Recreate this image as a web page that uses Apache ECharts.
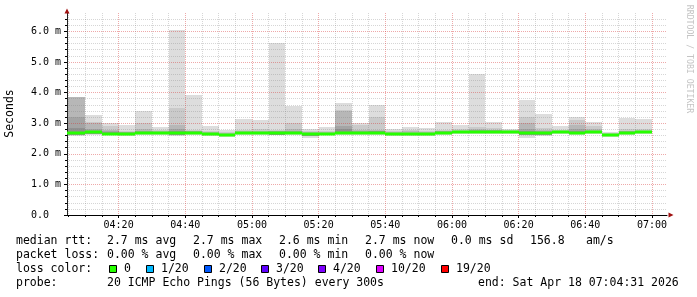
<!DOCTYPE html>
<html><head><meta charset="utf-8">
<script src="https://cdn.jsdelivr.net/npm/echarts@6/dist/echarts.min.js"></script>
<style>html,body{margin:0;padding:0;background:#fff}#c{width:697px;height:297px}</style>
</head><body><div id="c"></div>
<script>
// ---- data ----
const chartStart = "04:04:31";
const chartEnd = "07:04:31";
const stepEnds = ["04:10","04:15","04:20","04:25","04:30","04:35","04:40","04:45","04:50","04:55",
  "05:00","05:05","05:10","05:15","05:20","05:25","05:30","05:35","05:40","05:45",
  "05:50","05:55","06:00","06:05","06:10","06:15","06:20","06:25","06:30","06:35",
  "06:40","06:45","06:50","06:55","07:00"];
// smoke levels (ms): ping ranks max, 19th, 18th, 17th, 16th, 2nd, min
const smokeMax = [3.87,3.26,3.01,2.93,3.40,2.88,6.03,3.91,2.90,2.77,3.14,3.10,5.62,3.55,2.80,2.86,3.66,3.01,3.61,2.80,2.86,2.83,3.03,2.93,4.60,3.04,2.82,3.77,3.29,2.90,3.21,3.04,2.72,3.18,3.14];
const smokeP19 = [3.86,3.04,2.92,2.75,2.99,2.78,3.51,2.79,2.76,2.70,2.77,2.80,2.77,3.01,2.74,2.75,3.42,2.93,3.21,2.75,2.77,2.74,2.78,2.80,2.86,2.84,2.77,3.21,2.84,2.78,3.10,2.90,2.68,2.80,2.80];
const smokeP18 = [3.85,3.02,2.78,2.72,2.80,2.74,2.93,2.76,2.72,2.67,2.74,2.74,2.75,2.80,2.71,2.71,3.40,2.78,2.79,2.72,2.73,2.71,2.75,2.76,2.80,2.79,2.75,2.99,2.78,2.75,2.93,2.80,2.66,2.75,2.76];
const smokeP17 = [3.19,2.80,2.74,2.70,2.76,2.72,2.82,2.74,2.69,2.65,2.72,2.72,2.73,2.74,2.69,2.69,2.90,2.74,2.76,2.69,2.69,2.68,2.73,2.74,2.78,2.77,2.74,2.80,2.75,2.74,2.80,2.76,2.65,2.73,2.75];
const smokeP16 = [2.84,2.76,2.71,2.68,2.72,2.70,2.75,2.72,2.67,2.63,2.70,2.70,2.71,2.71,2.67,2.67,2.80,2.71,2.73,2.67,2.67,2.66,2.71,2.72,2.76,2.75,2.72,2.74,2.72,2.72,2.74,2.73,2.64,2.71,2.73];
const smokeP2  = [2.62,2.64,2.62,2.61,2.64,2.64,2.62,2.64,2.60,2.58,2.64,2.64,2.63,2.64,2.59,2.62,2.64,2.64,2.64,2.61,2.61,2.60,2.65,2.67,2.68,2.69,2.67,2.60,2.63,2.67,2.65,2.67,2.58,2.65,2.68];
const smokeMin = [2.58,2.62,2.60,2.57,2.62,2.62,2.57,2.62,2.58,2.56,2.62,2.61,2.60,2.61,2.53,2.60,2.62,2.62,2.62,2.58,2.59,2.57,2.62,2.64,2.65,2.66,2.65,2.53,2.58,2.64,2.62,2.64,2.55,2.63,2.65];
const medianRtt = [2.68,2.70,2.66,2.65,2.68,2.67,2.68,2.67,2.64,2.61,2.67,2.67,2.67,2.67,2.65,2.65,2.68,2.68,2.68,2.65,2.65,2.65,2.68,2.70,2.72,2.72,2.70,2.68,2.68,2.70,2.68,2.70,2.62,2.68,2.71];
const xTickLabels = ["04:20","04:40","05:00","05:20","05:40","06:00","06:20","06:40","07:00"];
const yTickValues = [0,1,2,3,4,5,6];
const yTickLabels = ["0.0  ","1.0 m","2.0 m","3.0 m","4.0 m","5.0 m","6.0 m"];
const yMax = 6.6;
const lossLabels = ["0","1/20","2/20","3/20","4/20","10/20","19/20"];
const lossColors = ["#26ff00","#00b8ff","#0059ff","#5e00ff","#7e00ff","#dd00ff","#ff0000"];
const medianStats = ["2.7 ms avg","2.7 ms max","2.6 ms min","2.7 ms now","0.0 ms sd","156.8","am/s"];
const lossStats = ["0.00 % avg","0.00 % max","0.00 % min","0.00 % now"];
const probeText = "20 ICMP Echo Pings (56 Bytes) every 300s";
const endText = "end: Sat Apr 18 07:04:31 2026";

// ---- helpers ----
function toMin(s){const p=s.split(':').map(Number);return p[0]*60+p[1]+(p[2]||0)/60;}
const xMin = toMin(chartStart), xMax = toMin(chartEnd);
const xMajor = xTickLabels.map(toMin);
const xMinor = [];
for (let t = Math.ceil(xMin/5)*5; t <= xMax; t += 5) if (t % 20 !== 0) xMinor.push(t);
const yMinor = [];
for (let k = 1; k <= 32; k++) { const v = +(k*0.2).toFixed(1); if (Math.abs(v-Math.round(v))>1e-6) yMinor.push(v); }
function fmtTime(v){const h=Math.floor(v/60),m=Math.round(v-h*60);return String(h).padStart(2,'0')+':'+String(m).padStart(2,'0');}

const smokeData = stepEnds.map((e,i)=>[i===0?xMin:toMin(stepEnds[i-1]), toMin(e),
  smokeMin[i], smokeMax[i], smokeP2[i], smokeP19[i], smokeP18[i], smokeP17[i], smokeP16[i]]);
const medData = stepEnds.map((e,i)=>[i===0?xMin:toMin(stepEnds[i-1]), toMin(e), medianRtt[i]]);
const shades = ['#dddddd','#cacaca','#b7b7b7','#a4a4a4','#919191'];

function renderSmoke(params, api){
  const x0 = Math.round(api.coord([api.value(0),0])[0]);
  const x1 = Math.round(api.coord([api.value(1),0])[0]);
  const los = [api.value(2), api.value(4), api.value(4), api.value(4), api.value(4)];
  const his = [api.value(3), api.value(5), api.value(6), api.value(7), api.value(8)];
  const children = his.map((h,k)=>{
    const yt = Math.round(api.coord([0,h])[1]);
    const yb = Math.round(api.coord([0,los[k]])[1]);
    return {type:'rect', shape:{x:x0,y:yt,width:x1-x0,height:Math.max(0,yb-yt)}, style:{fill:shades[k]}};
  });
  return {type:'group', children};
}
function renderMedian(params, api){
  const x0 = Math.round(api.coord([api.value(0),0])[0]);
  const x1 = Math.round(api.coord([api.value(1),0])[0]);
  const y = Math.round(api.coord([0,api.value(2)])[1]);
  return {type:'rect', shape:{x:x0,y:y-1.5,width:x1-x0,height:3}, style:{fill:lossColors[0]}};
}

const mono = '"DejaVu Sans Mono", monospace';
const gridMinor = 'rgba(128,128,128,0.32)';
const gridMajor = 'rgba(215,50,50,0.42)';
const arrowColor = '#a01010';

const graphics = [];
function txt(s, x, y){ graphics.push({type:'text', x:x, y:y, silent:true, style:{text:s, font:'11.5px '+mono, fill:'#000', textVerticalAlign:'middle'}}); }
txt('median rtt:', 16, 241);
const medX = [107,193,279,365,451,530,586];
medianStats.forEach((s,i)=>txt(s, medX[i], 241));
txt('packet loss:', 16, 255);
lossStats.forEach((s,i)=>txt(s, medX[i], 255));
txt('loss color:', 16, 269);
const lossTextX = [124,161,219,276,333,391,456];
lossLabels.forEach((s,i)=>{
  graphics.push({type:'rect', shape:{x:lossTextX[i]-14.5, y:265.5, width:7, height:7}, style:{fill:lossColors[i], stroke:'#000', lineWidth:1}});
  txt(s, lossTextX[i], 269);
});
txt('probe:', 16, 283.5);
txt(probeText, 107, 283.5);
txt(endText, 478, 283.5);
graphics.push({type:'text', x:10.5, y:113.5, rotation:Math.PI/2, silent:true,
  style:{text:'Seconds', font:'11.5px '+mono, fill:'#000', textAlign:'center', textVerticalAlign:'middle'}});
graphics.push({type:'text', x:689, y:59, rotation:-Math.PI/2, silent:true,
  style:{text:'RRDTOOL / TOBI OETIKER', font:'8.2px '+mono, fill:'#c4c4c4', textAlign:'center', textVerticalAlign:'middle'}});

const chart = echarts.init(document.getElementById('c'), null, {renderer:'canvas'});
chart.setOption({
  animation:false,
  backgroundColor:'#ffffff',
  grid:{left:67, right:30, top:13, bottom:82},
  xAxis:[
    {type:'value', min:xMin, max:xMax, position:'bottom', z:3,
     axisLine:{show:true, onZero:false, lineStyle:{color:'#000', width:1}},
     axisTick:{show:true, length:2, customValues:xMinor, lineStyle:{color:'#000'}},
     axisLabel:{show:true, customValues:xMajor, formatter:(v)=>fmtTime(v), margin:5, fontFamily:mono, fontSize:10, color:'#000'},
     splitLine:{show:true, lineStyle:{color:gridMinor, width:1, type:[1,1]}}},
    {type:'value', min:xMin, max:xMax, position:'bottom', z:3,
     axisLine:{show:true, onZero:false, symbol:['none','triangle'], symbolSize:[5,5], symbolOffset:[0,4], lineStyle:{color:arrowColor, opacity:0}},
     axisTick:{show:true, length:3, customValues:xMajor, lineStyle:{color:'#000'}},
     axisLabel:{show:false},
     splitLine:{show:true, lineStyle:{color:gridMajor, width:1, type:[1,1]}}}
  ],
  yAxis:[
    {type:'value', min:0, max:yMax, position:'left', z:3,
     axisLine:{show:true, onZero:false, lineStyle:{color:'#222', width:1}},
     axisTick:{show:true, length:3, customValues:yTickValues, lineStyle:{color:'#000'}},
     axisLabel:{show:true, customValues:yTickValues, formatter:(v)=>yTickLabels[yTickValues.indexOf(Math.round(v))], margin:6, fontFamily:mono, fontSize:10, color:'#000'},
     splitLine:{show:true, lineStyle:{color:gridMajor, width:1, type:[1,1]}}},
    {type:'value', min:0, max:yMax, position:'left', z:3,
     axisLine:{show:true, onZero:false, symbol:['none','triangle'], symbolSize:[5,5], symbolOffset:[0,2], lineStyle:{color:arrowColor, opacity:0}},
     axisTick:{show:true, length:2, customValues:yMinor, lineStyle:{color:'#000'}},
     axisLabel:{show:false},
     splitLine:{show:true, lineStyle:{color:gridMinor, width:1, type:[1,1]}}}
  ],
  series:[
    {type:'custom', name:'smoke', xAxisIndex:0, yAxisIndex:0, z:2, clip:true, silent:true,
     renderItem:renderSmoke, data:smokeData, encode:{x:[0,1], y:[2,3]}},
    {type:'custom', name:'median', xAxisIndex:0, yAxisIndex:0, z:4, clip:true, silent:true,
     renderItem:renderMedian, data:medData, encode:{x:[0,1], y:[2]}}
  ],
  graphic:graphics
});
</script></body></html>
